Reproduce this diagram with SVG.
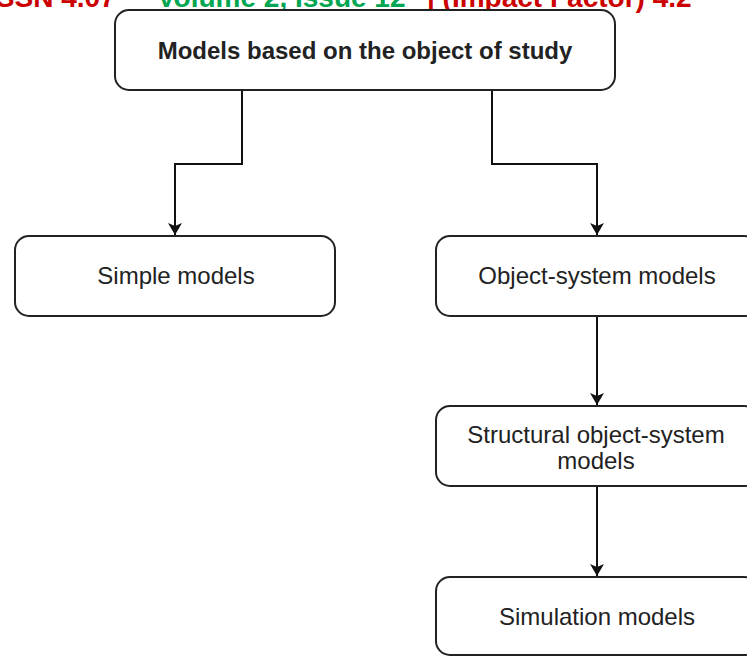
<svg xmlns="http://www.w3.org/2000/svg" width="747" height="657" viewBox="0 0 747 657">
<style>
.box{fill:#ffffff;stroke:#222222;stroke-width:2}
.lbl{font-family:"Liberation Sans",Arial,sans-serif;font-size:24px;fill:#222222;text-anchor:middle}
.bold{font-weight:bold}
.hdr{font-family:"Liberation Sans",Arial,sans-serif;font-size:28px;font-weight:bold}
.edge{fill:none;stroke:#111111;stroke-width:2}
</style>
<defs>
<marker id="arr" viewBox="0 0 12 14" refX="12" refY="7" markerWidth="12" markerHeight="14" markerUnits="userSpaceOnUse" orient="auto">
<path d="M0,0 L12,7 L0,14 L3,7 Z" fill="#111111"/>
</marker>
</defs>
<rect width="747" height="657" fill="#ffffff"/>
<g id="header">
<text class="hdr" x="-12" y="7" fill="#cc0000">ISSN 4.07</text>
<text class="hdr" x="157" y="7" fill="#00a651">Volume 2, Issue 12</text>
<text class="hdr" x="427" y="7" fill="#cc0000">| (Impact Factor) 4.2</text>
</g>
<g id="connectors">
<path class="edge" d="M242,90 V164 H175 V235" marker-end="url(#arr)"/>
<path class="edge" d="M492,90 V164 H597 V235" marker-end="url(#arr)"/>
<path class="edge" d="M597,316 V405" marker-end="url(#arr)"/>
<path class="edge" d="M597,486 V576" marker-end="url(#arr)"/>
</g>
<g id="n-root">
<rect class="box" x="115" y="10" width="500" height="80" rx="14"/>
<text class="lbl bold" x="365" y="59">Models based on the object of study</text>
</g>
<g id="n-simple">
<rect class="box" x="15" y="236" width="320" height="80" rx="14"/>
<text class="lbl" x="176" y="284">Simple models</text>
</g>
<g id="n-objsys">
<rect class="box" x="436" y="236" width="322" height="80" rx="14"/>
<text class="lbl" x="597" y="284">Object-system models</text>
</g>
<g id="n-struct">
<rect class="box" x="436" y="406" width="322" height="80" rx="14"/>
<text class="lbl" x="596" y="443">Structural object-system</text>
<text class="lbl" x="596" y="469">models</text>
</g>
<g id="n-sim">
<rect class="box" x="436" y="577" width="322" height="78" rx="14"/>
<text class="lbl" x="597" y="625">Simulation models</text>
</g>
</svg>
